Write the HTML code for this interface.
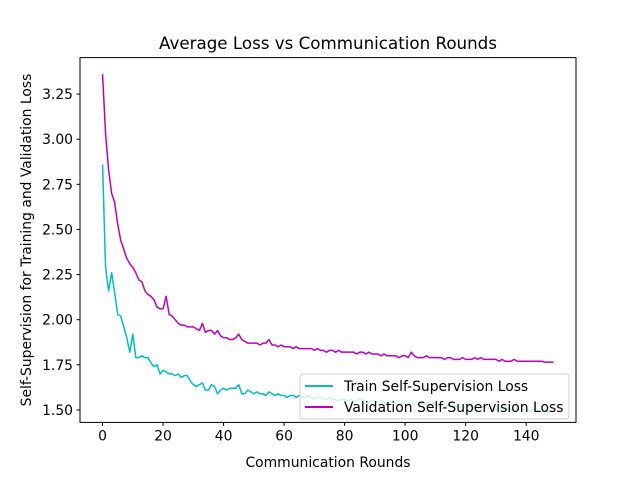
<!DOCTYPE html>
<html><head><meta charset="utf-8"><style>
body{margin:0;background:#fff;}
svg{font-family:"DejaVu Sans","Liberation Sans",sans-serif;}
</style></head><body>
<svg id="chart" width="640" height="480" viewBox="0 0 640 480">
<rect width="640" height="480" fill="#fff"/>
<text x="328" y="49" font-size="16.7" text-anchor="middle">Average Loss vs Communication Rounds</text>
<text x="328" y="467" font-size="13.9" text-anchor="middle">Communication Rounds</text>
<text transform="translate(31,240) rotate(-90)" font-size="13.9" text-anchor="middle">Self-Supervision for Training and Validation Loss</text>
<g id="axes"></g>
<g id="series"></g>
<rect x="80" y="57.6" width="496" height="364.8" fill="none" stroke="#000" stroke-width="1"/>
<g>
<rect x="300" y="374" width="269" height="45" rx="3" fill="#fff" fill-opacity="0.8" stroke="#ccc"/>
<line x1="305" y1="386" x2="333" y2="386" stroke="#00bfbf" stroke-width="2"/>
<text x="344" y="391" font-size="13.9">Train Self-Supervision Loss</text>
<line x1="305" y1="407" x2="333" y2="407" stroke="#bf00bf" stroke-width="2"/>
<text x="344" y="412" font-size="13.9">Validation Self-Supervision Loss</text>
</g>
</svg>
<script>
const trainLoss=[2.86,2.29,2.16,2.26,2.15,2.03,2.02,1.96,1.90,1.82,1.92,1.79,1.79,1.80,1.79,1.79,1.76,1.74,1.75,1.70,1.72,1.71,1.70,1.70,1.69,1.70,1.68,1.69,1.69,1.66,1.64,1.63,1.64,1.65,1.61,1.61,1.64,1.63,1.59,1.61,1.62,1.61,1.62,1.62,1.62,1.64,1.59,1.59,1.61,1.60,
1.59,1.60,1.59,1.59,1.58,1.60,1.59,1.58,1.59,1.58,1.58,1.57,1.58,1.58,1.57,1.58,1.57,1.57,1.58,1.57,1.56,1.57,1.57,1.56,1.56,1.57,1.56,1.56,1.55,1.56,1.56,1.55,1.56,1.55,1.55,1.56,1.55,1.55,1.54,1.55,1.55,1.54,1.55,1.54,1.54,1.55,1.54,1.54,1.53,1.54,1.54,1.53,1.54,1.53,1.53,1.54,1.53,1.53,1.52,1.53,1.53,1.52,1.53,1.52,1.52,1.53,1.52,1.52,1.52,1.51,1.52,1.52,1.51,1.52,1.51,1.51,1.52,1.51,1.51,1.51,1.50,1.51,1.51,1.50,1.51,1.50,1.50,1.51,1.50,1.50,1.50,1.49,1.50,1.50,1.49,1.49,1.50,1.49,1.49,1.49];
const valLoss=[3.36,3.03,2.83,2.70,2.65,2.53,2.44,2.39,2.34,2.31,2.29,2.26,2.22,2.21,2.16,2.14,2.13,2.11,2.07,2.06,2.06,2.13,2.03,2.02,2.00,1.98,1.97,1.97,1.96,1.96,1.96,1.95,1.94,1.98,1.93,1.94,1.94,1.92,1.94,1.91,1.90,1.90,1.89,1.89,1.90,1.92,1.89,1.88,1.87,1.87,
1.87,1.87,1.86,1.87,1.87,1.89,1.86,1.86,1.85,1.86,1.85,1.85,1.85,1.84,1.85,1.84,1.84,1.84,1.84,1.84,1.83,1.84,1.83,1.83,1.82,1.83,1.83,1.82,1.83,1.82,1.82,1.82,1.82,1.82,1.81,1.82,1.82,1.81,1.82,1.81,1.81,1.81,1.80,1.81,1.80,1.80,1.80,1.80,1.79,1.80,1.80,1.79,1.82,1.80,1.79,1.79,1.79,1.80,1.79,1.79,1.79,1.79,1.79,1.78,1.79,1.79,1.78,1.78,1.78,1.79,1.78,1.78,1.78,1.79,1.78,1.79,1.78,1.78,1.78,1.78,1.78,1.77,1.78,1.77,1.77,1.77,1.78,1.77,1.77,1.77,1.77,1.77,1.77,1.77,1.77,1.77,1.765,1.765,1.765,1.765];
const xTicks=[0,20,40,60,80,100,120,140];
const yTicks=[1.50,1.75,2.00,2.25,2.50,2.75,3.00,3.25];
const NS='http://www.w3.org/2000/svg';
const X0=80,X1=576,Y0=57.6,Y1=422.4;
const xmin=-7.45,xmax=156.45,ymin=1.431,ymax=3.452;
function sx(v){return X0+(v-xmin)/(xmax-xmin)*(X1-X0);}
function sy(v){return Y1-(v-ymin)/(ymax-ymin)*(Y1-Y0);}
function mk(tag,attrs,parent){const e=document.createElementNS(NS,tag);for(const k in attrs)e.setAttribute(k,attrs[k]);parent.appendChild(e);return e;}
const axes=document.getElementById('axes');
xTicks.forEach(t=>{
  const l=mk('line',{x1:sx(t),x2:sx(t),y1:Y1,y2:Y1+3.5,stroke:'#000'},axes);
  
  
  const tx=mk('text',{x:sx(t),y:Y1+18,'font-size':13.9,'text-anchor':'middle'},axes);
  tx.textContent=t;
  
  
});
yTicks.forEach(t=>{
  const l=mk('line',{x1:X0-3.5,x2:X0,y1:sy(t),y2:sy(t),stroke:'#000'},axes);
  
  
  const tx=mk('text',{x:X0-7,y:sy(t)+5,'font-size':13.9,'text-anchor':'end'},axes);
  tx.textContent=t.toFixed(2);
  
  
});
const series=document.getElementById('series');
function line(data,color,name){
  const p=mk('polyline',{points:data.map((v,i)=>sx(i)+','+sy(v)).join(' '),fill:'none',stroke:color,'stroke-width':1.5,'stroke-linejoin':'round'},series);
  
  
}
line(trainLoss,'#00bfbf','train-loss-line');
line(valLoss,'#bf00bf','validation-loss-line');
</script>
</body></html>
